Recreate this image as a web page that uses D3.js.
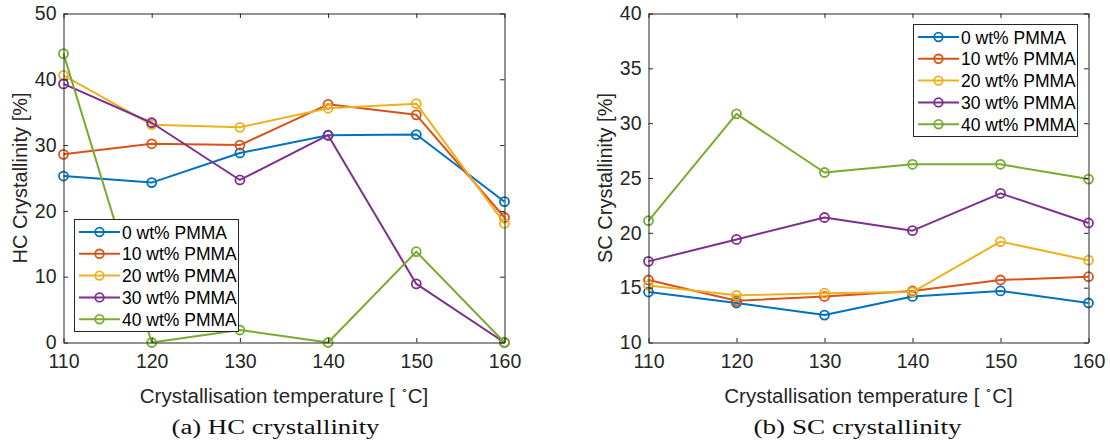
<!DOCTYPE html>
<html>
<head>
<meta charset="utf-8">
<script src="https://cdn.jsdelivr.net/npm/d3@7"></script>
<style>
  html, body { margin: 0; padding: 0; background: #fff; }
  svg { display: block; }
</style>
</head>
<body>
<svg id="fig" width="1110" height="446"></svg>
<script>
// Crystallisation temperatures (°C)
const temperatures = [110, 120, 130, 140, 150, 160];

// PMMA content of each blend
const seriesNames = ["0 wt% PMMA", "10 wt% PMMA", "20 wt% PMMA", "30 wt% PMMA", "40 wt% PMMA"];
const seriesColors = ["#0072BD", "#D95319", "#EDB120", "#7E2F8E", "#77AC30"];

// HC crystallinity [%]
const hc0  = [25.3, 24.3, 28.8, 31.5, 31.6, 21.4];
const hc10 = [28.6, 30.2, 30.0, 36.2, 34.6, 19.0];
const hc20 = [40.6, 33.1, 32.7, 35.6, 36.3, 18.1];
const hc30 = [39.3, 33.4, 24.7, 31.5, 8.9, 0.0];
const hc40 = [43.9, 0.0, 1.9, 0.0, 13.8, 0.0];

// SC crystallinity [%]
const sc0  = [14.6, 13.6, 12.5, 14.2, 14.7, 13.6];
const sc10 = [15.7, 13.8, 14.2, 14.7, 15.7, 16.0];
const sc20 = [15.2, 14.3, 14.5, 14.6, 19.2, 17.5];
const sc30 = [17.4, 19.4, 21.4, 20.2, 23.6, 20.9];
const sc40 = [21.1, 30.85, 25.5, 26.25, 26.25, 24.9];

// Axis ticks
const xTicks = [110, 120, 130, 140, 150, 160];
const hcTicks = [0, 10, 20, 30, 40, 50];
const scTicks = [10, 15, 20, 25, 30, 35, 40];

const svg = d3.select("#fig");
const sans = "'Liberation Sans', Arial, Helvetica, sans-serif";
const serif = "'Liberation Serif', 'Times New Roman', serif";
const ink = "#262626";

function panel(opts) {
  const { left, right, top, bottom, yDomain, yTicks, data, yLabel, caption, captionX, legendPos } = opts;
  const g = svg.append("g");
  const x = d3.scaleLinear().domain([110, 160]).range([left, right]);
  const y = d3.scaleLinear().domain(yDomain).range([bottom, top]);

  // Series lines and circle markers
  const line = d3.line().x((d, i) => x(temperatures[i])).y(d => y(d));
  data.forEach((vals, s) => {
    const sg = g.append("g");
    sg.append("path")
      .attr("d", line(vals))
      .attr("fill", "none")
      .attr("stroke", seriesColors[s])
      .attr("stroke-width", 2)
      .attr("stroke-linejoin", "round");
    sg.selectAll("circle").data(vals).join("circle")
      .attr("cx", (d, i) => x(temperatures[i]))
      .attr("cy", d => y(d))
      .attr("r", 4.5)
      .attr("fill", "none")
      .attr("stroke", seriesColors[s])
      .attr("stroke-width", 1.8);
  });

  // Axes with inward ticks on all four sides
  const tl = 4.5;
  const bx = g.append("g").attr("transform", `translate(0,${bottom})`)
    .call(d3.axisBottom(x).tickValues(xTicks).tickSizeInner(-tl).tickSizeOuter(0).tickPadding(12));
  const tx = g.append("g").attr("transform", `translate(0,${top})`)
    .call(d3.axisTop(x).tickValues(xTicks).tickSizeInner(-tl).tickSizeOuter(0).tickFormat(""));
  const ly = g.append("g").attr("transform", `translate(${left},0)`)
    .call(d3.axisLeft(y).tickValues(yTicks).tickSizeInner(-tl).tickSizeOuter(0).tickPadding(7));
  const ry = g.append("g").attr("transform", `translate(${right},0)`)
    .call(d3.axisRight(y).tickValues(yTicks).tickSizeInner(-tl).tickSizeOuter(0).tickFormat(""));
  [bx, tx, ly, ry].forEach(a => {
    a.select(".domain").attr("stroke", ink).attr("stroke-width", 1);
    a.selectAll(".tick line").attr("stroke", ink).attr("stroke-width", 1);
    a.selectAll(".tick text").attr("fill", ink).attr("font-family", sans).attr("font-size", 19.5);
  });

  // Axis labels
  const xl = g.append("text")
    .attr("x", (left + right) / 2).attr("y", bottom + 60)
    .attr("text-anchor", "middle")
    .attr("font-family", sans).attr("font-size", 20.5).attr("fill", ink);
  xl.append("tspan").text("Crystallisation temperature [ ");
  xl.append("tspan").attr("font-size", 11).attr("dy", -9).text("\u2218");
  xl.append("tspan").attr("dy", 9).text("C]");

  g.append("text")
    .attr("transform", `translate(${left - 37},${(top + bottom) / 2}) rotate(-90)`)
    .attr("text-anchor", "middle")
    .attr("font-family", sans).attr("font-size", 20).attr("fill", ink)
    .text(yLabel);

  // Caption
  g.append("text")
    .attr("x", captionX).attr("y", 434)
    .attr("text-anchor", "middle")
    .attr("font-family", serif).attr("font-size", 20).attr("fill", "#111")
    .attr("textLength", 208).attr("lengthAdjust", "spacingAndGlyphs")
    .text(caption);

  // Legend
  const [lx, ly0, lw, lh] = legendPos;
  const lg = g.append("g");
  lg.append("rect")
    .attr("x", lx + 0.5).attr("y", ly0 + 0.5).attr("width", lw).attr("height", lh)
    .attr("fill", "#fff").attr("stroke", ink).attr("stroke-width", 1);
  seriesNames.forEach((name, s) => {
    const yy = ly0 + 13 + s * 21.8;
    lg.append("line")
      .attr("x1", lx + 5).attr("x2", lx + 46).attr("y1", yy).attr("y2", yy)
      .attr("stroke", seriesColors[s]).attr("stroke-width", 2);
    lg.append("circle")
      .attr("cx", lx + 25.5).attr("cy", yy).attr("r", 4.3)
      .attr("fill", "none").attr("stroke", seriesColors[s]).attr("stroke-width", 1.8);
    lg.append("text")
      .attr("x", lx + 48).attr("y", yy + 6.5)
      .attr("font-family", sans).attr("font-size", 17.5).attr("fill", "#000")
      .text(name);
  });
}

panel({
  left: 63.5, right: 504.5, top: 13.5, bottom: 342.5,
  yDomain: [0, 50], yTicks: hcTicks,
  data: [hc0, hc10, hc20, hc30, hc40],
  yLabel: "HC Crystallinity [%]",
  caption: "(a) HC crystallinity",
  captionX: 275.5,
  legendPos: [74, 219, 164, 112]
});

panel({
  left: 648.5, right: 1088.5, top: 13.5, bottom: 342.5,
  yDomain: [10, 40], yTicks: scTicks,
  data: [sc0, sc10, sc20, sc30, sc40],
  yLabel: "SC Crystallinity [%]",
  caption: "(b) SC crystallinity",
  captionX: 857.5,
  legendPos: [913, 24, 164, 112]
});
</script>
</body>
</html>
